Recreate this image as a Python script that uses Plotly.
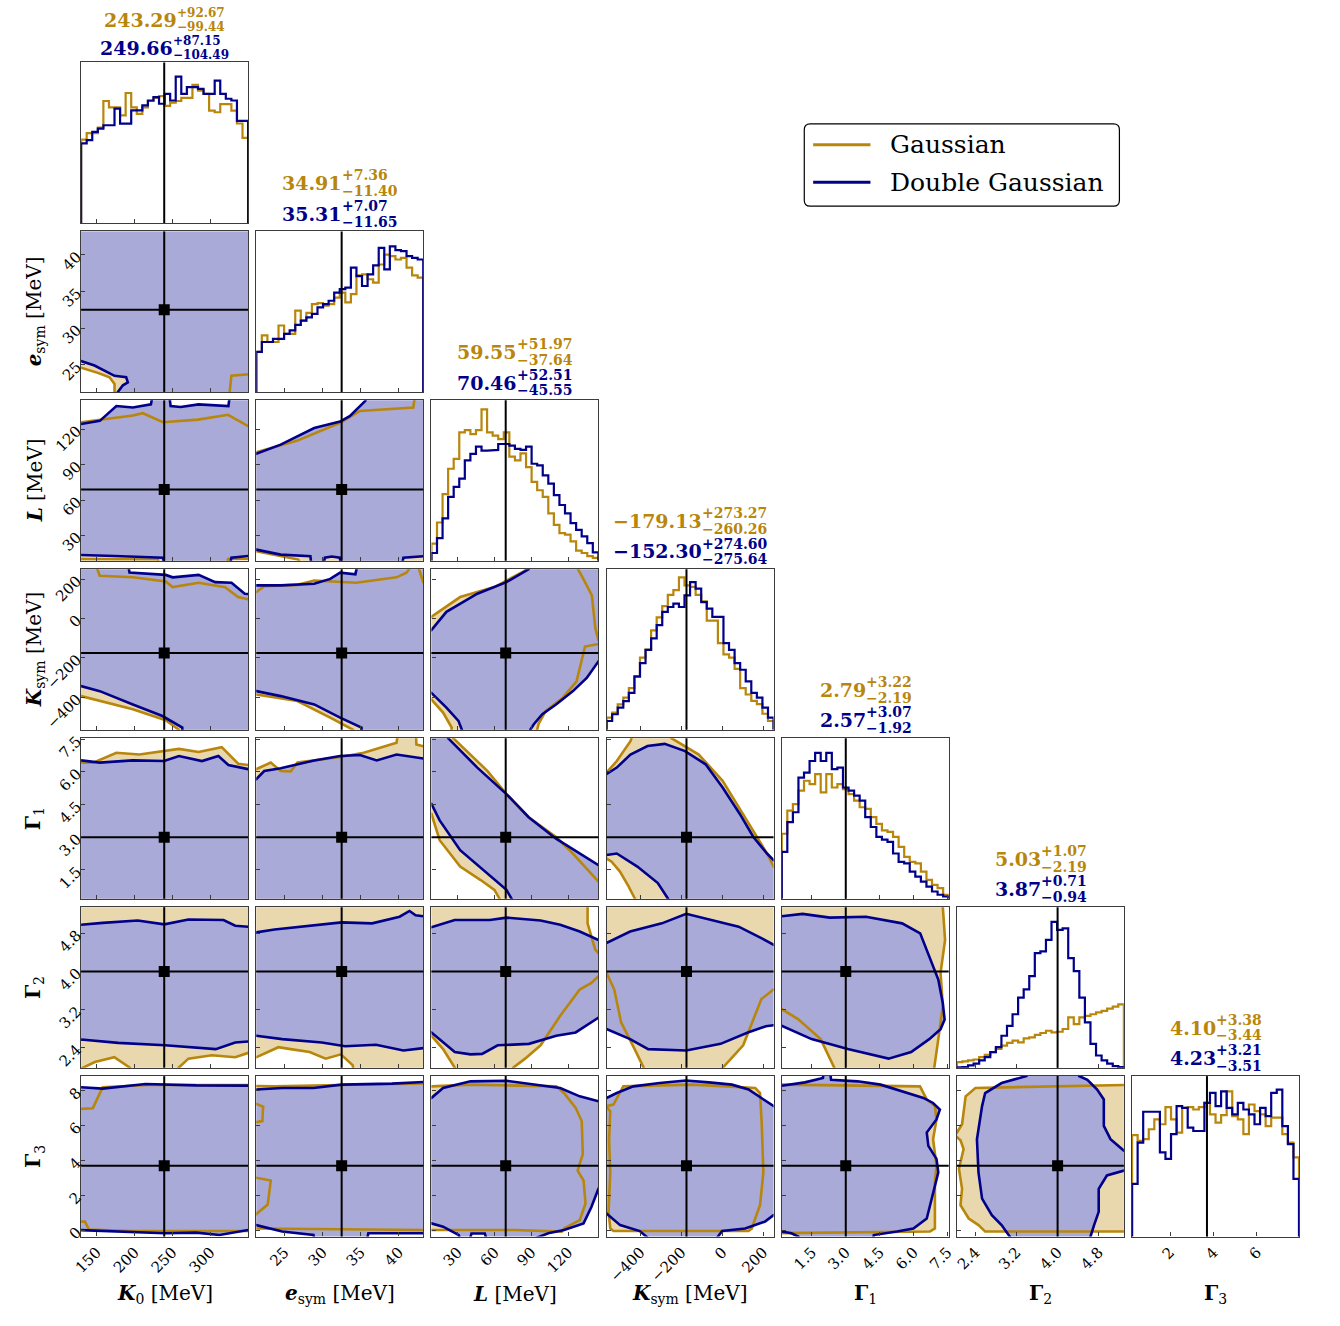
import plotly.graph_objects as go

# page is 1340x1326; the browser keeps an 8px body margin around the figure
PAGE_W, PAGE_H, BODY_MARGIN = 1340, 1326, 8
FIG_W, FIG_H = PAGE_W - 2 * BODY_MARGIN, PAGE_H - 2 * BODY_MARGIN

PARAMS = ["K0", "esym", "L", "Ksym", "G1", "G2", "G3"]

AXIS_TITLES = {
    "K0": "<b><i>K</i></b><sub>0</sub> [MeV]",
    "esym": "<b><i>e</i></b><sub>sym</sub> [MeV]",
    "L": "<b><i>L</i></b> [MeV]",
    "Ksym": "<b><i>K</i></b><sub>sym</sub> [MeV]",
    "G1": "<b>Γ</b><sub>1</sub>",
    "G2": "<b>Γ</b><sub>2</sub>",
    "G3": "<b>Γ</b><sub>3</sub>",
}

X_RANGE = {"K0": [129.6, 349.4], "esym": [21.3, 43.2], "L": [8.5, 144.5],
           "Ksym": [-565, 250], "G1": [0.17, 7.55], "G2": [2.04, 5.29],
           "G3": [0.25, 7.94]}
Y_RANGE = {"esym": [21.3, 43.2], "L": [8.5, 144.5], "Ksym": [-565, 250],
           "G1": [0.17, 7.55], "G2": [1.98, 5.35], "G3": [-0.36, 8.85]}

TICKS = {"K0": [150, 200, 250, 300], "esym": [25, 30, 35, 40],
         "L": [30, 60, 90, 120], "Ksym": [-400, -200, 0, 200],
         "G1": [1.5, 3.0, 4.5, 6.0, 7.5], "G2": [2.4, 3.2, 4.0, 4.8],
         "G3": [0, 2, 4, 6, 8]}
TICK_FORMAT = {"G1": ".1f", "G2": ".1f"}

TRUTH = {"K0": 239, "esym": 32.5, "L": 69, "Ksym": -175,
         "G1": 3.0, "G2": 4.0, "G3": 3.7}

# median, upper and lower 1-sigma offsets
SUMMARY_GAUSS = {
    "K0": ("243.29", "+92.67", "−99.44"),
    "esym": ("34.91", "+7.36", "−11.40"),
    "L": ("59.55", "+51.97", "−37.64"),
    "Ksym": ("−179.13", "+273.27", "−260.26"),
    "G1": ("2.79", "+3.22", "−2.19"),
    "G2": ("5.03", "+1.07", "−2.19"),
    "G3": ("4.10", "+3.38", "−3.44"),
}
SUMMARY_DOUBLE = {
    "K0": ("249.66", "+87.15", "−104.49"),
    "esym": ("35.31", "+7.07", "−11.65"),
    "L": ("70.46", "+52.51", "−45.55"),
    "Ksym": ("−152.30", "+274.60", "−275.64"),
    "G1": ("2.57", "+3.07", "−1.92"),
    "G2": ("3.87", "+0.71", "−0.94"),
    "G3": ("4.23", "+3.21", "−3.51"),
}

# 1D marginal histograms (30 bins across each parameter range, relative height)
K0_HIST_GAUSS = [52, 56, 56, 59.5, 76, 72, 72, 67, 81, 72, 68, 72, 76, 78, 79,
                 73, 75, 76, 78, 78, 86, 82.5, 80.5, 70, 69, 74, 74, 70, 62, 53]
K0_HIST_DOUBLE = [49.6, 51.6, 56.8, 58.8, 60.9, 60.9, 71.2, 61.9, 61.9, 70.2,
                  70.2, 73.3, 76.3, 78.4, 74.3, 80.5, 76.3, 91.2, 80.5, 84.6,
                  84.6, 83.5, 80.5, 80.5, 88.7, 80.5, 77.4, 76.3, 63.6, 63.6]
ESYM_HIST_GAUSS = [24.9, 35.2, 31.1, 31.1, 41.4, 36.2, 36.2, 50.6, 44.4, 49.2,
                   54.7, 55.3, 53.7, 54.7, 58.8, 61.9, 55.8, 60.9, 72.6, 73.3,
                   70.2, 68.1, 79.4, 85.6, 84.6, 82.5, 83.5, 77.4, 72.6, 71.2]
ESYM_HIST_DOUBLE = [24.9, 31.1, 31.1, 33.1, 33.1, 36.2, 38.3, 41.8, 44.4, 46.5,
                    48.6, 52.7, 54.7, 56.8, 61.9, 64, 65, 77.4, 72.2, 66,
                    73.3, 78.8, 89.7, 76.3, 90.7, 88.3, 87.7, 84.6, 83.5, 82.5]
L_HIST_GAUSS = [10.7, 23.9, 41.6, 57.4, 63.6, 80, 81.5, 79, 81.5, 94.4,
                80, 78, 75.9, 80, 65, 62.6, 67, 58.4, 49.2, 44,
                39.9, 29.6, 22.4, 17.3, 16.3, 12.1, 6.4, 4.9, 2.9, 1.9]
L_HIST_DOUBLE = [4.9, 14.2, 26.5, 39.9, 46.1, 51.2, 62.6, 66.7, 71.2, 68.7,
                 68.7, 69.1, 72.8, 72.8, 71.8, 69.8, 69.1, 71.2, 60.5, 59.5,
                 53.3, 48.1, 40.9, 34.8, 29.6, 23.5, 19.3, 15.2, 11.1, 5.3]
KSYM_HIST_GAUSS = [7.6, 10.7, 15.8, 20, 26, 33, 45, 50, 62, 70,
                   77, 84, 87, 95, 90, 89, 84, 80, 68, 68,
                   54, 47, 45, 38, 26, 22, 18, 16, 10, 5.5]
KSYM_HIST_DOUBLE = [5.5, 9.7, 13.8, 17.9, 23, 33.3, 41.6, 49.8, 57, 65.2,
                    73.5, 76.5, 78.6, 76.5, 83.7, 92, 87.9, 79.6, 75.5, 70.4,
                    70.4, 54, 49.8, 41.6, 37.4, 30.2, 23, 20, 13.8, 7.6]
G1_HIST_GAUSS = [40.5, 54.9, 59, 67.3, 73.5, 71.4, 77.6, 66.3, 77.6, 69.3,
                 71.4, 68.3, 65.2, 61.1, 57, 56, 50.8, 46.7, 42.6, 41.6,
                 38.5, 32.3, 26.1, 23, 22, 16.9, 11.7, 8.6, 6.6, 2.5]
G1_HIST_DOUBLE = [29.2, 47.7, 53.9, 75.5, 78.6, 85.8, 90.9, 85.8, 90.9, 80.7,
                  81.7, 69.3, 67.3, 64.2, 61.1, 50.8, 44.7, 38.5, 36.8, 35.4,
                  28.2, 23, 22, 16.9, 13.8, 10.7, 7.6, 4.5, 2.5, 1.4]
G2_HIST_GAUSS = [3.5, 3.9, 4.5, 5.1, 6.6, 8, 9.7, 11.7, 13.8, 15.4,
                 16.9, 15.8, 18.3, 18.9, 20.4, 21.6, 23, 22, 22.4, 24.1,
                 31.3, 27.2, 31.3, 32.3, 33.3, 34.4, 35.4, 36.8, 38.1, 39.5]
G2_HIST_DOUBLE = [0.2, 0.4, 1.4, 2.5, 4.5, 6.6, 9.7, 12.8, 19.9, 26.1,
                  33.3, 43.6, 48.8, 57, 71.4, 72.4, 79.6, 90.9, 85.8, 86.8,
                  68.3, 60.1, 43.6, 28.2, 14.8, 7.6, 4.5, 2.5, 1, 0.4]
G3_HIST_GAUSS = [63.2, 59.7, 60.7, 66.9, 73, 70, 80.7, 73, 64.8, 80.2,
                 80.7, 79.2, 80.7, 83.3, 76.1, 71, 75.7, 90.5, 75.1, 73,
                 63.8, 82.3, 78.2, 76.1, 68.9, 74.1, 74.1, 63.8, 58.6, 49.4]
G3_HIST_DOUBLE = [32.9, 58.6, 77.8, 77.8, 77.8, 52.5, 48.4, 63.8, 81.3, 80.2,
                  67.9, 65.8, 65.8, 83.3, 89.5, 81.3, 90.5, 80.2, 76.1, 83.3,
                  79.2, 76.1, 70, 80.2, 75.1, 89.5, 91.6, 68.9, 57.6, 36]

# 2D credible-region outlines, (x, y) vertices in parameter units
ESYM_K0_GAUSS = [(107.6, 45.4), (371.4, 45.4), (371.4, 23.9), (327.4, 23.5), (323, 19.1),
                 (173.6, 19.1), (173.6, 22.4), (167, 23.3), (151.6, 23.9), (129.6, 24.6),
                 (107.6, 24.8)]
ESYM_K0_DOUBLE = [(107.6, 45.4), (371.4, 45.4), (371.4, 19.1), (178, 19.1), (178, 21.3),
                  (184.6, 22.2), (191.1, 22.6), (188.9, 23.3), (173.6, 23.5), (162.6, 24.1),
                  (147.2, 24.9), (129.6, 25.5), (107.6, 25.7)]

L_K0_GAUSS = [(107.6, 125.5), (129.6, 126), (197.7, 131.6), (210.9, 133.6), (237.3, 126),
              (283.5, 128.2), (323, 132.3), (349.4, 122.7), (371.4, 121.4), (371.4, 10.1),
              (323, 10.1), (318.6, -5.1), (235.1, -5.1), (230.7, 9.6), (107.6, 10.1)]
L_K0_DOUBLE = [(107.6, 124.1), (129.6, 124.4), (154.2, 127.1), (176, 139.7), (197.7, 138.4),
               (221.5, 141.1), (226.3, 158.1), (243.9, 158.1), (247.4, 139.7), (260.6, 138.9),
               (284.3, 141.1), (323.5, 139.7), (327.4, 158.1), (371.4, 158.1), (371.4, 12.6),
               (349.4, 12.6), (327.4, 11.2), (323, -5.1), (241.7, -5.1), (237.3, 11.2),
               (173.6, 12.6), (129.6, 13.8), (107.6, 13.9)]

L_ESYM_GAUSS = [(19.1, 98.3), (21.3, 100.6), (26.7, 110.4), (32.3, 125.5), (34.9, 135.5),
                (41.9, 138.4), (42.3, 158.1), (45.4, 158.1), (45.4, -5.1), (27.9, -5.1),
                (26.8, 9.6), (24.5, 12.4), (21.3, 16.7), (19.1, 18)]
L_ESYM_DOUBLE = [(19.1, 96.9), (21.3, 99.2), (24.5, 107), (28.9, 121), (32.3, 126.5),
                 (33.6, 131.3), (35.6, 144), (36, 158.1), (45.4, 158.1), (45.4, 12.6),
                 (43.2, 12.4), (40.6, 11.2), (40.1, -5.1), (32.7, -5.1), (32.25, 11.2),
                 (31.2, 12.2), (30.3, 11.2), (29.8, -5.1), (28.7, -5.1), (28.4, 12.4),
                 (24.5, 13.8), (21.3, 18), (19.1, 19.4)]

KSYM_K0_GAUSS = [(107.6, 331.5), (142.8, 331.5), (154.2, 217.4), (197.7, 209.3), (241, 188.1),
                 (250.1, 159.5), (284.3, 181.5), (319.1, 159.5), (336.2, 109), (349.4, 97.6),
                 (371.4, 87), (371.4, -646.5), (259.3, -646.5), (258.4, -565), (241, -516.1),
                 (197.7, -460.7), (129.6, -393.9), (107.6, -385.7)]
KSYM_K0_DOUBLE = [(107.6, 331.5), (189, 331.5), (193.3, 233.7), (241, 221.5), (250.1, 209.3),
                  (284.3, 221.5), (306.1, 184.8), (327.6, 181.5), (345, 126.1), (371.4, 119.6),
                  (371.4, -646.5), (263.7, -646.5), (262.8, -553.6), (236.6, -494.9),
                  (197.7, -436.2), (154.2, -368.6), (129.6, -343.3), (107.6, -336.8)]

KSYM_ESYM_GAUSS = [(19.1, 119.6), (21.3, 134.3), (22.35, 164.4), (26.7, 171), (28.9, 193),
                   (32.3, 188.1), (34.4, 181.5), (39.7, 209.3), (41, 232.9), (42.1, 290.8),
                   (42.3, 290.8), (43.2, 184.8), (45.4, 168.5), (45.4, -646.5), (34.2, -646.5),
                   (34, -565), (31, -503.1), (26.7, -419.1), (21.3, -385.7), (19.1, -377.6)]
KSYM_ESYM_DOUBLE = [(19.1, 168.5), (24.5, 168.5), (28.9, 176.7), (31, 201.1), (32.3, 232.9),
                    (34.3, 224.7), (34.9, 331.5), (45.4, 331.5), (45.4, -646.5), (35.3, -646.5),
                    (35.1, -553.6), (32.3, -503.1), (28.9, -436.2), (24.5, -393.9),
                    (21.3, -368.6), (19.1, -361.3)]

KSYM_L_GAUSS = [(-5.1, -2.7), (8.5, 8.8), (31.9, 109), (59.8, 159.5), (84.8, 243.5), (86, 331.5),
                (126.8, 331.5), (128, 250), (133.6, 184.8), (139.2, 117.2), (140.6, 34),
                (142, -49.9), (144.5, -108.6), (158.1, -116.8), (158.1, -129), (144.5, -129),
                (133.6, -142), (130.9, -217.8), (126.7, -318.9), (115.5, -402), (101.5, -469.6),
                (95.9, -533.2), (94.6, -565), (92.8, -646.5), (23.5, -646.5), (25, -553.6),
                (18, -477.8), (8.5, -411), (-5.1, -402)]
KSYM_L_DOUBLE = [(-5.1, -76), (8.5, -58.9), (20.7, 34), (45.9, 126.1), (69.6, 184.8), (87.7, 250),
                 (90.1, 331.5), (158.1, 331.5), (158.1, -214.6), (144.5, -217.8), (135, -301.8),
                 (123.8, -368.6), (110, -436.2), (98.8, -485.9), (91.9, -536.5), (89, -565),
                 (87.4, -646.5), (34.3, -646.5), (33.3, -565), (30.5, -519.4), (20.7, -452.5),
                 (8.5, -377.6), (-5.1, -369.4)]

G1_K0_GAUSS = [(107.6, 6.43), (145.6, 6.43), (176, 6.88), (206.3, 6.8), (258.4, 7.06),
               (284.3, 6.92), (314.7, 7.14), (327.6, 6.66), (336.4, 6.38), (349.4, 6.32),
               (371.4, 6.3), (371.4, -0.57), (107.6, -0.57)]
G1_K0_DOUBLE = [(107.6, 6.53), (129.6, 6.53), (154.2, 6.43), (197.7, 6.53), (238.8, 6.5),
                (258.4, 6.73), (288.7, 6.5), (310.3, 6.73), (323.5, 6.32), (349.4, 6.13),
                (371.4, 6.07), (371.4, -0.57), (107.6, -0.57)]

G1_ESYM_GAUSS = [(19.1, 6.07), (21.3, 6.13), (23.2, 6.43), (24.5, 6.04), (25.8, 6.02),
                 (26.7, 6.43), (32.3, 6.69), (35.4, 6.88), (39.7, 7.34), (40.1, 8.29),
                 (42.2, 8.29), (42.3, 7.26), (43.2, 7.18), (45.4, 7.18), (45.4, -0.57),
                 (19.1, -0.57)]
G1_ESYM_DOUBLE = [(19.1, 5.63), (21.3, 5.67), (22.35, 6.04), (24.5, 6.17), (28.9, 6.53),
                  (32.3, 6.73), (34.9, 6.78), (37.1, 6.53), (39.7, 6.8), (43.2, 6.62),
                  (45.4, 6.6), (45.4, -0.57), (19.1, -0.57)]

G1_L_GAUSS = [(-5.1, 8.29), (24.8, 8.29), (26.3, 7.55), (54.2, 6.04), (69.6, 4.98), (87.7, 3.92),
              (110, 3.01), (121.1, 2.4), (144.5, 0.96), (158.1, 0.54), (158.1, -0.57),
              (64.3, -0.57), (64, 0.17), (59.8, 0.58), (48.6, 1.03), (31.9, 1.65), (15.2, 2.86),
              (8.5, 4.07), (-5.1, 4.3)]
G1_L_DOUBLE = [(-5.1, 8.29), (20.7, 8.29), (22.1, 7.55), (45.9, 6.2), (69.6, 4.98), (87.7, 3.92),
               (110, 2.93), (129.4, 2.25), (144.5, 1.72), (158.1, 1.42), (158.1, -0.57),
               (73.8, -0.57), (73.8, 0.17), (69.6, 0.58), (54.2, 1.34), (31.9, 2.4), (15.2, 3.77),
               (8.5, 4.53), (-5.1, 4.75)]

G1_KSYM_GAUSS = [(-646.5, 5.85), (-565, 5.97), (-515.3, 6.5), (-448.5, 7.41), (-418.3, 8.29),
                 (-255.3, 8.29), (-248, 7.55), (-115.1, 6.8), (1.4, 5.59), (118, 3.77),
                 (218.2, 2.25), (250, 1.65), (331.5, 1.28), (331.5, -0.57), (-426.5, -0.57),
                 (-426.5, 0.17), (-459, 0.76), (-499.8, 1.42), (-540.5, 1.87), (-565, 2.02),
                 (-646.5, 2.09)]
G1_KSYM_DOUBLE = [(-646.5, 5.78), (-565, 5.9), (-515.3, 6.2), (-448.5, 6.8), (-365.3, 7.19),
                  (-281.4, 7.29), (-182, 6.96), (-81.7, 6.35), (1.4, 5.28), (85.4, 4.07),
                  (151.4, 3.01), (218.2, 2.25), (250, 1.95), (331.5, 1.65), (331.5, -0.57),
                  (-263.5, -0.57), (-265.1, 0.17), (-314.8, 0.89), (-415, 1.65), (-515.3, 2.25),
                  (-565, 2.18), (-646.5, 2.16)]

G2_K0_GAUSS = [(107.6, 5.69), (371.4, 5.69), (371.4, 2.29), (349.4, 2.29), (332.5, 2.2),
               (301.7, 2.24), (270.9, 2.17), (258, 1.98), (254.9, 1.64), (195.5, 1.64),
               (193.8, 1.98), (173.3, 2.2), (147.6, 2.1), (129.6, 1.96), (107.6, 1.95)]
G2_K0_DOUBLE = [(107.6, 4.98), (129.6, 4.98), (158, 5.02), (204.1, 5.07), (239.1, 4.99),
                (270.9, 5.09), (317.1, 5.08), (332.5, 4.96), (349.4, 4.94), (371.4, 4.94),
                (371.4, 2.53), (349.4, 2.53), (332.5, 2.51), (306.8, 2.37), (239.9, 2.45),
                (178.4, 2.5), (129.6, 2.57), (107.6, 2.57)]

G2_ESYM_GAUSS = [(19.1, 5.69), (45.4, 5.69), (45.4, 1.64), (34.2, 1.64), (33.96, 2.03),
                 (32.4, 2.26), (30.4, 2.17), (28.3, 2.31), (25.8, 2.37), (24.2, 2.41),
                 (21.3, 2.2), (19.1, 2.18)]
G2_ESYM_DOUBLE = [(19.1, 4.81), (21.3, 4.82), (23.7, 4.88), (26.8, 4.93), (32.5, 5.03),
                  (36.5, 5.01), (40.1, 5.15), (41.4, 5.27), (42.2, 5.18), (43.2, 5.16),
                  (45.4, 5.16), (45.4, 2.39), (43.2, 2.39), (40.6, 2.34), (37, 2.46),
                  (32.95, 2.43), (29.9, 2.51), (24.7, 2.58), (21.3, 2.65), (19.1, 2.65)]

G2_L_GAUSS = [(-5.1, 5.69), (135, 5.69), (135.7, 5.35), (135.7, 5.01), (141.9, 4.46),
              (144.5, 4.39), (158.1, 4.37), (158.1, 3.9), (144.5, 3.9), (138.8, 3.76),
              (129.3, 3.62), (113.4, 3.07), (97.4, 2.45), (84.8, 2.17), (75.1, 1.98),
              (73.8, 1.64), (28.9, 1.64), (27.5, 1.98), (18, 2.37), (8.5, 2.65), (-5.1, 2.69)]
G2_L_DOUBLE = [(-5.1, 4.91), (8.5, 4.93), (27.5, 5.08), (56.1, 5.08), (69.8, 5.13), (97.4, 5.07),
               (113.4, 4.98), (129.3, 4.84), (144.5, 4.66), (158.1, 4.61), (158.1, 3.06),
               (144.5, 3.03), (126, 2.72), (110.2, 2.65), (87.9, 2.48), (62.5, 2.45),
               (49.8, 2.27), (40.3, 2.26), (27.5, 2.31), (8.5, 2.72), (-5.1, 2.76)]

G2_KSYM_GAUSS = [(-646.5, 5.69), (331.5, 5.69), (331.5, 3.63), (250, 3.62), (190.5, 3.42),
                 (101.7, 2.45), (2.2, 1.98), (-2.7, 1.64), (-377.6, 1.64), (-384, 1.98),
                 (-428.1, 2.37), (-494.1, 2.93), (-527.5, 3.62), (-565, 3.97), (-646.5, 4.0)]
G2_KSYM_DOUBLE = [(-646.5, 4.57), (-565, 4.6), (-450.1, 4.84), (-295.2, 5.01), (-176.2, 5.21),
                  (-52.4, 5.08), (79.7, 4.94), (190.5, 4.7), (250, 4.56), (331.5, 4.51),
                  (331.5, 2.89), (250, 2.87), (212.5, 2.85), (124.5, 2.72), (-8.4, 2.48),
                  (-176.2, 2.34), (-362.1, 2.37), (-450.1, 2.58), (-565, 2.79), (-646.5, 2.82)]

G2_G1_GAUSS = [(-0.57, 5.69), (7.25, 5.69), (7.29, 5.35), (7.39, 4.66), (7.19, 3.97),
               (7.29, 3.28), (7.09, 2.58), (6.89, 1.98), (6.81, 1.64), (2.53, 1.64),
               (2.49, 1.98), (1.89, 2.58), (0.89, 3.0), (0.17, 3.21), (-0.57, 3.26)]
G2_G1_DOUBLE = [(-0.57, 5.18), (0.17, 5.16), (1.09, 5.21), (2.29, 5.13), (3.89, 5.15),
                (5.49, 5.01), (6.29, 4.8), (6.69, 4.32), (7.09, 3.83), (7.29, 3.33),
                (7.37, 2.99), (7.19, 2.79), (6.69, 2.58), (5.89, 2.31), (4.89, 2.17),
                (3.09, 2.37), (1.49, 2.58), (0.17, 2.86), (-0.57, 2.89)]

G3_K0_GAUSS = [(107.6, 7.01), (129.6, 6.97), (145, 7.01), (155.3, 7.93), (158, 8.21),
               (217.5, 8.34), (371.4, 8.34), (371.4, -0.04), (195.5, -0.04), (139.9, 0.05),
               (134.7, 0.5), (107.6, 0.5)]
G3_K0_DOUBLE = [(107.6, 8.21), (129.6, 8.21), (158, 8.13), (214.4, 8.4), (281, 8.32),
                (349.4, 8.3), (371.4, 8.3), (371.4, 0.02), (349.4, 0.02), (311.8, -0.27),
                (281, -0.13), (239.9, -0.17), (178.4, -0.07), (129.6, 0.05), (107.6, 0.05)]

G3_ESYM_GAUSS = [(19.1, 8.3), (23.7, 8.26), (32.25, 8.34), (43.2, 8.44), (45.4, 8.44),
                 (45.4, 0.01), (21.3, 0.11), (20.86, 0.11), (20.86, 0.78), (22.8, 1.48),
                 (23.2, 2.86), (20.86, 3.05), (20.86, 6.18), (22.1, 6.27), (22.2, 7.1),
                 (20.86, 7.33), (20.86, 8.3)]
G3_ESYM_DOUBLE = [(19.1, 8.08), (21.3, 8.08), (24.7, 8.17), (28.8, 8.17), (32.5, 8.36),
                  (39.1, 8.42), (43.2, 8.51), (45.4, 8.51), (45.4, -0.17), (36, -0.17),
                  (35.5, -1.28), (29.2, -1.28), (28.8, -0.27), (24.7, -0.07), (21.3, 0.3),
                  (19.1, 0.38)]

G3_L_GAUSS = [(-5.1, 8.26), (8.5, 8.26), (40.3, 8.36), (110.2, 8.26), (115, 7.97), (116.5, 7.88),
              (126, 7.03), (130.9, 6.27), (131.8, 4.37), (127.6, 3.43), (132.4, 2.86),
              (134, 1.54), (129.3, 0.59), (116.5, 0.11), (114.6, -0.07), (76.5, 0.02),
              (8.5, 0.02), (-5.1, 0.02)]
G3_L_DOUBLE = [(-5.1, 7.47), (8.5, 7.6), (18, 8.17), (40.3, 8.55), (69.8, 8.58), (87.9, 8.4),
               (113.4, 8.17), (129.3, 7.69), (144.5, 7.41), (158.1, 7.28), (158.1, 2.4),
               (144.5, 2.38), (138.8, 1.34), (132.4, 0.4), (116.5, 0.02), (103.7, -0.17),
               (90.1, -0.54), (53.4, -0.54), (52, -0.18), (41.1, -0.18), (39.8, -0.54),
               (31.6, -0.54), (30.8, -0.27), (18, 0.21), (8.5, 0.4), (-5.1, 0.47)]

G3_KSYM_GAUSS = [(-646.5, 7.1), (-565, 7.13), (-531.6, 7.22), (-483.5, 8.26), (-145.3, 8.36),
                 (160.4, 8.17), (184, 7.88), (192.1, 6.17), (200.3, 3.33), (184, 1.44),
                 (160.4, 0.68), (144.1, 0.11), (127.8, -0.04), (-531.6, -0.04),
                 (-547.1, 0.11), (-555.2, 1.06), (-547.1, 3.33), (-552.8, 5.17),
                 (-547.1, 6.82), (-565, 7.1), (-646.5, 7.1)]
G3_KSYM_DOUBLE = [(-646.5, 7.47), (-565, 7.6), (-515.3, 7.88), (-434.6, 8.26), (-305.8, 8.45),
                  (-177.9, 8.6), (-65.4, 8.49), (47.1, 8.36), (127.8, 8.08), (192.1, 7.6),
                  (250, 7.13), (331.5, 7.01), (331.5, 0.84), (250, 0.87), (208.4, 0.5),
                  (111.5, 0.11), (-1, -0.04), (-32.8, -0.54), (-353.1, -0.54), (-402.8, -0.04),
                  (-499, 0.3), (-565, 0.97), (-646.5, 1.02)]

G3_G1_GAUSS = [(-0.57, 8.36), (0.17, 8.36), (6.28, 8.26), (6.58, 7.51), (6.94, 7.13),
               (7.01, 6.36), (6.86, 5.23), (7.01, 3.71), (6.94, 2.77), (6.94, 0.11),
               (6.72, -0.07), (0.17, -0.17), (-0.57, -0.17)]
G3_G1_DOUBLE = [(-0.57, 8.3), (0.17, 8.3), (1.19, 8.49), (1.99, 8.74), (2.09, 9.77), (2.24, 9.77),
                (2.35, 8.64), (3.52, 8.55), (4.54, 8.36), (5.56, 7.97), (6.43, 7.6), (6.86, 7.31),
                (7.16, 6.93), (7.01, 6.36), (6.58, 5.61), (6.65, 4.85), (7.01, 4.1), (7.09, 3.33),
                (6.86, 2.2), (6.58, 0.68), (5.99, 0.11), (5.26, -0.07), (4.24, -0.27),
                (4.16, -1.28), (0.91, -1.28), (0.9, -0.36), (0.6, -0.17), (0.17, -0.07),
                (-0.57, -0.07)]

G3_G2_GAUSS = [(1.72, 5.63), (2.04, 5.61), (2.14, 6.09), (2.21, 7.69), (2.4, 8.17), (5.29, 8.36),
               (5.62, 8.36), (5.62, -0.07), (5.29, -0.07), (2.59, -0.07), (2.46, 0.3),
               (2.27, 0.68), (2.11, 1.44), (2.14, 2.38), (2.08, 3.53), (2.17, 4.66),
               (2.11, 5.17), (2.04, 5.35), (1.72, 5.35)]
G3_G2_DOUBLE = [(3.34, 9.77), (3.39, 8.85), (2.91, 8.45), (2.59, 7.88), (2.53, 7.13), (2.43, 5.23),
                (2.46, 3.33), (2.53, 1.82), (2.72, 0.87), (2.91, 0.3), (3.07, -0.36),
                (3.11, -1.28), (4.61, -1.28), (4.64, -0.36), (4.71, 0.3), (4.8, 1.06),
                (4.8, 2.38), (4.96, 3.15), (5.29, 3.43), (5.62, 3.43), (5.62, 4.57),
                (5.29, 4.57), (5.03, 5.23), (4.9, 5.99), (4.9, 7.51), (4.77, 8.08),
                (4.58, 8.64), (4.42, 8.85), (4.38, 9.77)]

HISTS = {
    "K0": (K0_HIST_GAUSS, K0_HIST_DOUBLE), "esym": (ESYM_HIST_GAUSS, ESYM_HIST_DOUBLE),
    "L": (L_HIST_GAUSS, L_HIST_DOUBLE), "Ksym": (KSYM_HIST_GAUSS, KSYM_HIST_DOUBLE),
    "G1": (G1_HIST_GAUSS, G1_HIST_DOUBLE), "G2": (G2_HIST_GAUSS, G2_HIST_DOUBLE),
    "G3": (G3_HIST_GAUSS, G3_HIST_DOUBLE),
}

REGIONS = {
    (1, 0): (ESYM_K0_GAUSS, ESYM_K0_DOUBLE),
    (2, 0): (L_K0_GAUSS, L_K0_DOUBLE), (2, 1): (L_ESYM_GAUSS, L_ESYM_DOUBLE),
    (3, 0): (KSYM_K0_GAUSS, KSYM_K0_DOUBLE), (3, 1): (KSYM_ESYM_GAUSS, KSYM_ESYM_DOUBLE),
    (3, 2): (KSYM_L_GAUSS, KSYM_L_DOUBLE),
    (4, 0): (G1_K0_GAUSS, G1_K0_DOUBLE), (4, 1): (G1_ESYM_GAUSS, G1_ESYM_DOUBLE),
    (4, 2): (G1_L_GAUSS, G1_L_DOUBLE), (4, 3): (G1_KSYM_GAUSS, G1_KSYM_DOUBLE),
    (5, 0): (G2_K0_GAUSS, G2_K0_DOUBLE), (5, 1): (G2_ESYM_GAUSS, G2_ESYM_DOUBLE),
    (5, 2): (G2_L_GAUSS, G2_L_DOUBLE), (5, 3): (G2_KSYM_GAUSS, G2_KSYM_DOUBLE),
    (5, 4): (G2_G1_GAUSS, G2_G1_DOUBLE),
    (6, 0): (G3_K0_GAUSS, G3_K0_DOUBLE), (6, 1): (G3_ESYM_GAUSS, G3_ESYM_DOUBLE),
    (6, 2): (G3_L_GAUSS, G3_L_DOUBLE), (6, 3): (G3_KSYM_GAUSS, G3_KSYM_DOUBLE),
    (6, 4): (G3_G1_GAUSS, G3_G1_DOUBLE), (6, 5): (G3_G2_GAUSS, G3_G2_DOUBLE),
}

# ---- styling ----
GOLD = "#B8860B"
NAVY = "#00008B"
TAN_FILL = "#E9D7AE"
LAV_FILL = "#A9AAD8"
FRAME = "#3c3c3c"
SERIF = "DejaVu Serif"

# grid geometry in page pixels
LEFT0, COL_STEP, PANEL_W = 81, 177.3, 169
TOP0, ROW_STEP, PANEL_H = 65, 170.5, 162


def px_x(v):
    return (v - BODY_MARGIN) / FIG_W


def px_y(v):
    return 1 - (v - BODY_MARGIN) / FIG_H


def col_left(c):
    return LEFT0 + c * COL_STEP


def row_top(r):
    return TOP0 + r * ROW_STEP


fig = go.Figure()
layout_axes = {}
shapes = []
annotations = []

panels = [(r, c) for r in range(7) for c in range(r + 1)]
suffix = {}
for n, (r, c) in enumerate(panels, start=1):
    suffix[(r, c)] = "" if n == 1 else str(n)

common = dict(showgrid=False, zeroline=False, showline=True, mirror=True,
              linecolor=FRAME, linewidth=1.3, ticks="inside", ticklen=4,
              tickwidth=1, tickcolor=FRAME, tickangle=-45,
              tickfont=dict(family=SERIF, size=15, color="black"))

for (r, c) in panels:
    s = suffix[(r, c)]
    px_, py_ = PARAMS[c], PARAMS[r]
    l, t = col_left(c), row_top(r)
    xa = dict(common, domain=[px_x(l), px_x(l + PANEL_W)], anchor="y" + s,
              range=X_RANGE[px_], tickvals=TICKS[px_], showticklabels=(r == 6))
    if px_ in TICK_FORMAT:
        xa["tickformat"] = TICK_FORMAT[px_]
    if r == c:
        ya = dict(common, domain=[px_y(t + PANEL_H), px_y(t)], anchor="x" + s,
                  range=[0, 100], ticks="", showticklabels=False)
    else:
        ya = dict(common, domain=[px_y(t + PANEL_H), px_y(t)], anchor="x" + s,
                  range=Y_RANGE[py_], tickvals=TICKS[py_], showticklabels=(c == 0))
        if py_ in TICK_FORMAT:
            ya["tickformat"] = TICK_FORMAT[py_]
    layout_axes["xaxis" + s] = xa
    layout_axes["yaxis" + s] = ya


def closed(pts):
    xs = [p[0] for p in pts] + [pts[0][0]]
    ys = [p[1] for p in pts] + [pts[0][1]]
    return xs, ys


# 2D credible regions
for (r, c), (gauss, dgauss) in REGIONS.items():
    s = suffix[(r, c)]
    for pts, col in ((gauss, TAN_FILL), (dgauss, LAV_FILL)):
        xs, ys = closed(pts)
        fig.add_trace(go.Scatter(x=xs, y=ys, mode="lines", fill="toself",
                                 fillcolor=col, line=dict(width=0),
                                 hoverinfo="skip", showlegend=False,
                                 xaxis="x" + s, yaxis="y" + s))
    for pts, col in ((gauss, GOLD), (dgauss, NAVY)):
        xs, ys = closed(pts)
        fig.add_trace(go.Scatter(x=xs, y=ys, mode="lines",
                                 line=dict(color=col, width=2.6),
                                 hoverinfo="skip", showlegend=False,
                                 xaxis="x" + s, yaxis="y" + s))
    fig.add_trace(go.Scatter(x=[TRUTH[PARAMS[c]]], y=[TRUTH[PARAMS[r]]], mode="markers",
                             marker=dict(symbol="square", size=11, color="black"),
                             hoverinfo="skip", showlegend=False,
                             xaxis="x" + s, yaxis="y" + s))


def step_outline(lo, hi, heights):
    n = len(heights)
    w = (hi - lo) / n
    xs, ys = [lo], [0]
    for i, h in enumerate(heights):
        xs += [lo + i * w, lo + (i + 1) * w]
        ys += [h, h]
    xs.append(hi)
    ys.append(0)
    return xs, ys


# marginal histograms
for i, p in enumerate(PARAMS):
    s = suffix[(i, i)]
    lo, hi = X_RANGE[p]
    for heights, col in zip(HISTS[p], (GOLD, NAVY)):
        xs, ys = step_outline(lo, hi, heights)
        fig.add_trace(go.Scatter(x=xs, y=ys, mode="lines",
                                 line=dict(color=col, width=2.2),
                                 hoverinfo="skip", showlegend=False,
                                 xaxis="x" + s, yaxis="y" + s))

# truth lines
for (r, c) in panels:
    s = suffix[(r, c)]
    xr = "x" + s
    yr = "y" + s
    shapes.append(dict(type="line", xref=xr, yref=yr + " domain",
                       x0=TRUTH[PARAMS[c]], x1=TRUTH[PARAMS[c]], y0=0, y1=1,
                       line=dict(color="black", width=2), layer="above"))
    if r != c:
        shapes.append(dict(type="line", xref=xr + " domain", yref=yr,
                           x0=0, x1=1, y0=TRUTH[PARAMS[r]], y1=TRUTH[PARAMS[r]],
                           line=dict(color="black", width=2), layer="above"))

# median +/- summaries above each marginal
MAIN_SIZE = 19
GAUSS_DY, DOUBLE_DY = -49, -18
SCRIPT_REGULAR = (14, 8)
SCRIPT_COMPACT = (12, 7)


def text_width(txt, size):
    total = 0.0
    for ch in txt:
        if ch == ".":
            total += 0.38
        elif ch in "+−":
            total += 0.838
        else:
            total += 0.696
    return total * size


for i, p in enumerate(PARAMS):
    center = col_left(i) + PANEL_W / 2
    top = row_top(i)
    size, off = SCRIPT_REGULAR
    half = 0.57 * size
    g_y, d_y = top + GAUSS_DY, top + DOUBLE_DY
    if g_y - off - half < BODY_MARGIN:
        # not enough room above the top panel: stack the two summaries tighter
        size, off = SCRIPT_COMPACT
        half = 0.57 * size
        g_y = BODY_MARGIN + off + half + 0.5
        d_y = g_y + 2 * (off + half) + 0.5
    for summary, col, yc in ((SUMMARY_GAUSS, GOLD, g_y), (SUMMARY_DOUBLE, NAVY, d_y)):
        main, up, down = summary[p]
        wm = text_width(main, MAIN_SIZE)
        ws = max(text_width(up, size), text_width(down, size))
        anchor = center + (wm - ws) / 2
        annotations.append(dict(x=px_x(anchor), y=px_y(yc), xref="paper", yref="paper",
                                text="<b>%s</b>" % main, showarrow=False,
                                xanchor="right", yanchor="middle", xshift=2,
                                font=dict(family=SERIF, size=MAIN_SIZE, color=col)))
        annotations.append(dict(x=px_x(anchor), y=px_y(yc - off), xref="paper",
                                yref="paper", text="<b>%s</b>" % up, showarrow=False,
                                xanchor="left", yanchor="middle", xshift=-2,
                                font=dict(family=SERIF, size=size, color=col)))
        annotations.append(dict(x=px_x(anchor), y=px_y(yc + off), xref="paper",
                                yref="paper", text="<b>%s</b>" % down, showarrow=False,
                                xanchor="left", yanchor="middle", xshift=-2,
                                font=dict(family=SERIF, size=size, color=col)))

# axis titles
for c, p in enumerate(PARAMS):
    annotations.append(dict(x=px_x(col_left(c) + PANEL_W / 2), y=px_y(1308),
                            xref="paper", yref="paper", text=AXIS_TITLES[p],
                            showarrow=False, xanchor="center", yanchor="middle",
                            font=dict(family=SERIF, size=20, color="black")))
for r in range(1, 7):
    p = PARAMS[r]
    annotations.append(dict(x=px_x(34), y=px_y(row_top(r) + PANEL_H / 2),
                            xref="paper", yref="paper", text=AXIS_TITLES[p],
                            showarrow=False, textangle=-90, xanchor="center",
                            yanchor="middle",
                            font=dict(family=SERIF, size=20, color="black")))

# legend box
bx0, by0, bx1, by1, rad = 813, 127, 1132, 210, 6
rx, ry = rad / FIG_W, rad / FIG_H
X0, X1, Y0, Y1 = px_x(bx0), px_x(bx1), px_y(by1), px_y(by0)
box_path = (f"M {X0 + rx},{Y1} L {X1 - rx},{Y1} Q {X1},{Y1} {X1},{Y1 - ry} "
            f"L {X1},{Y0 + ry} Q {X1},{Y0} {X1 - rx},{Y0} L {X0 + rx},{Y0} "
            f"Q {X0},{Y0} {X0},{Y0 + ry} L {X0},{Y1 - ry} Q {X0},{Y1} {X0 + rx},{Y1} Z")
shapes.append(dict(type="path", xref="paper", yref="paper", path=box_path,
                   line=dict(color="black", width=1.2), fillcolor="white", layer="above"))
for label, col, yc in (("Gaussian", GOLD, 148), ("Double Gaussian", NAVY, 186)):
    shapes.append(dict(type="line", xref="paper", yref="paper",
                       x0=px_x(822), x1=px_x(880), y0=px_y(yc), y1=px_y(yc),
                       line=dict(color=col, width=3), layer="above"))
    annotations.append(dict(x=px_x(898), y=px_y(yc), xref="paper", yref="paper",
                            text=label, showarrow=False, xanchor="left",
                            yanchor="middle",
                            font=dict(family=SERIF, size=25, color="black")))

fig.update_layout(
    width=FIG_W, height=FIG_H,
    margin=dict(l=0, r=0, t=0, b=0),
    paper_bgcolor="white", plot_bgcolor="white",
    showlegend=False,
    shapes=shapes, annotations=annotations,
    **layout_axes,
)

fig.write_html("out.html")
